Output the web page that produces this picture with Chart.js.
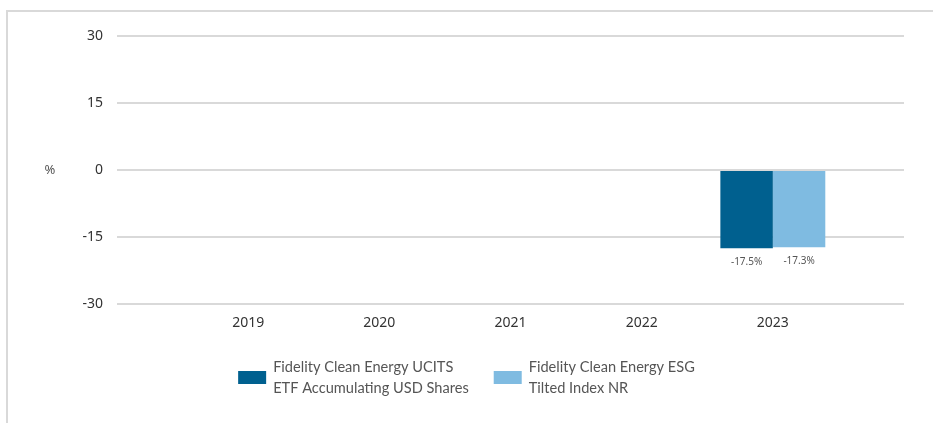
<!DOCTYPE html>
<html>
<head>
<meta charset="utf-8">
<script src="https://cdn.jsdelivr.net/npm/chart.js@4"></script>
<style>
  body { margin: 0; background: #fff; }
  #wrap { width: 933px; height: 423px; }
</style>
</head>
<body>
<div id="wrap"><canvas id="myChart" width="933" height="423"></canvas></div>
<script>
const years = ["2019", "2020", "2021", "2022", "2023"];
const fundLabel = ["Fidelity Clean Energy UCITS", "ETF Accumulating USD Shares"];
const indexLabel = ["Fidelity Clean Energy ESG", "Tilted Index NR"];
const fundValues = [null, null, null, null, -17.5];
const indexValues = [null, null, null, null, -17.3];
const yTicks = [-30, -15, 0, 15, 30];

// pad with an empty slot on each side so the years sit on the gridline spacing
const labels = [""].concat(years, [""]);
const pad = (arr) => [null].concat(arr, [null]);

const ctx = document.getElementById("myChart");

const extras = {
  id: "extras",
  beforeDraw(chart) {
    const c = chart.ctx;
    c.save();
    c.fillStyle = "#d9d9d9";
    c.fillRect(6, 10, 927, 2);
    c.fillRect(6, 10, 2, 413);
    c.fillStyle = "#555";
    c.font = "13px 'Noto Sans'";
    c.textAlign = "center";
    c.textBaseline = "middle";
    c.fillText("%", 50, chart.scales.y.getPixelForValue(0));
    c.restore();
  },
  afterDatasetsDraw(chart) {
    const c = chart.ctx;
    c.save();
    c.fillStyle = "#555";
    c.font = "10px 'Noto Sans'";
    c.textAlign = "center";
    c.textBaseline = "middle";
    chart.data.datasets.forEach(function (ds, i) {
      chart.getDatasetMeta(i).data.forEach(function (bar, j) {
        const v = ds.data[j];
        if (v === null || v === undefined) return;
        c.fillText(v.toFixed(1) + "%", bar.x, bar.y + 14);
      });
    });
    c.restore();
  },
  afterDraw(chart) {
    // two-line legend under the x axis
    const c = chart.ctx;
    c.save();
    c.font = "14.6px Lato";
    c.textBaseline = "middle";
    const items = chart.data.datasets.map(function (ds) {
      const w = Math.max.apply(null, ds.label.map((t) => c.measureText(t).width));
      return { lines: ds.label, color: ds.backgroundColor, w: 28 + 7 + w };
    });
    const gap = 25;
    const total = items.reduce((a, it) => a + it.w, 0) + gap * (items.length - 1);
    let x = (chart.width - total) / 2;
    const mid = 377;
    items.forEach(function (it) {
      c.fillStyle = it.color;
      c.fillRect(x, mid - 6, 28, 13);
      c.fillStyle = "#555";
      it.lines.forEach(function (t, k) {
        c.fillText(t, x + 35, mid - 10 + k * 21);
      });
      x += it.w + gap;
    });
    c.restore();
  },
};

new Chart(ctx, {
  type: "bar",
  data: {
    labels: labels,
    datasets: [
      {
        label: fundLabel,
        data: pad(fundValues),
        backgroundColor: "#00608f",
        categoryPercentage: 0.8,
        barPercentage: 1,
      },
      {
        label: indexLabel,
        data: pad(indexValues),
        backgroundColor: "#7fbbe1",
        categoryPercentage: 0.8,
        barPercentage: 1,
      },
    ],
  },
  options: {
    responsive: false,
    animation: false,
    layout: { padding: { top: 36, right: 29, bottom: 81, left: 0 } },
    plugins: {
      tooltip: { enabled: false },
      legend: { display: false },
    },
    scales: {
      x: {
        offset: false,
        grid: { display: false, drawTicks: false },
        border: { display: false },
        ticks: {
          color: "#333",
          padding: 11,
          maxRotation: 0,
          autoSkip: false,
          font: { family: "'Noto Sans'", size: 14 },
        },
        afterFit(scale) {
          scale.height = 38;
        },
      },
      y: {
        min: -30,
        max: 30,
        afterBuildTicks(scale) {
          scale.ticks = yTicks.map((v) => ({ value: v }));
        },
        grid: { color: "#d9d9d9", lineWidth: 2, drawTicks: false },
        border: { display: false },
        ticks: {
          color: "#333",
          padding: 14,
          font: { family: "'Noto Sans'", size: 14 },
        },
        afterFit(scale) {
          scale.width = 117;
        },
      },
    },
  },
  plugins: [extras],
});
</script>
</body>
</html>
